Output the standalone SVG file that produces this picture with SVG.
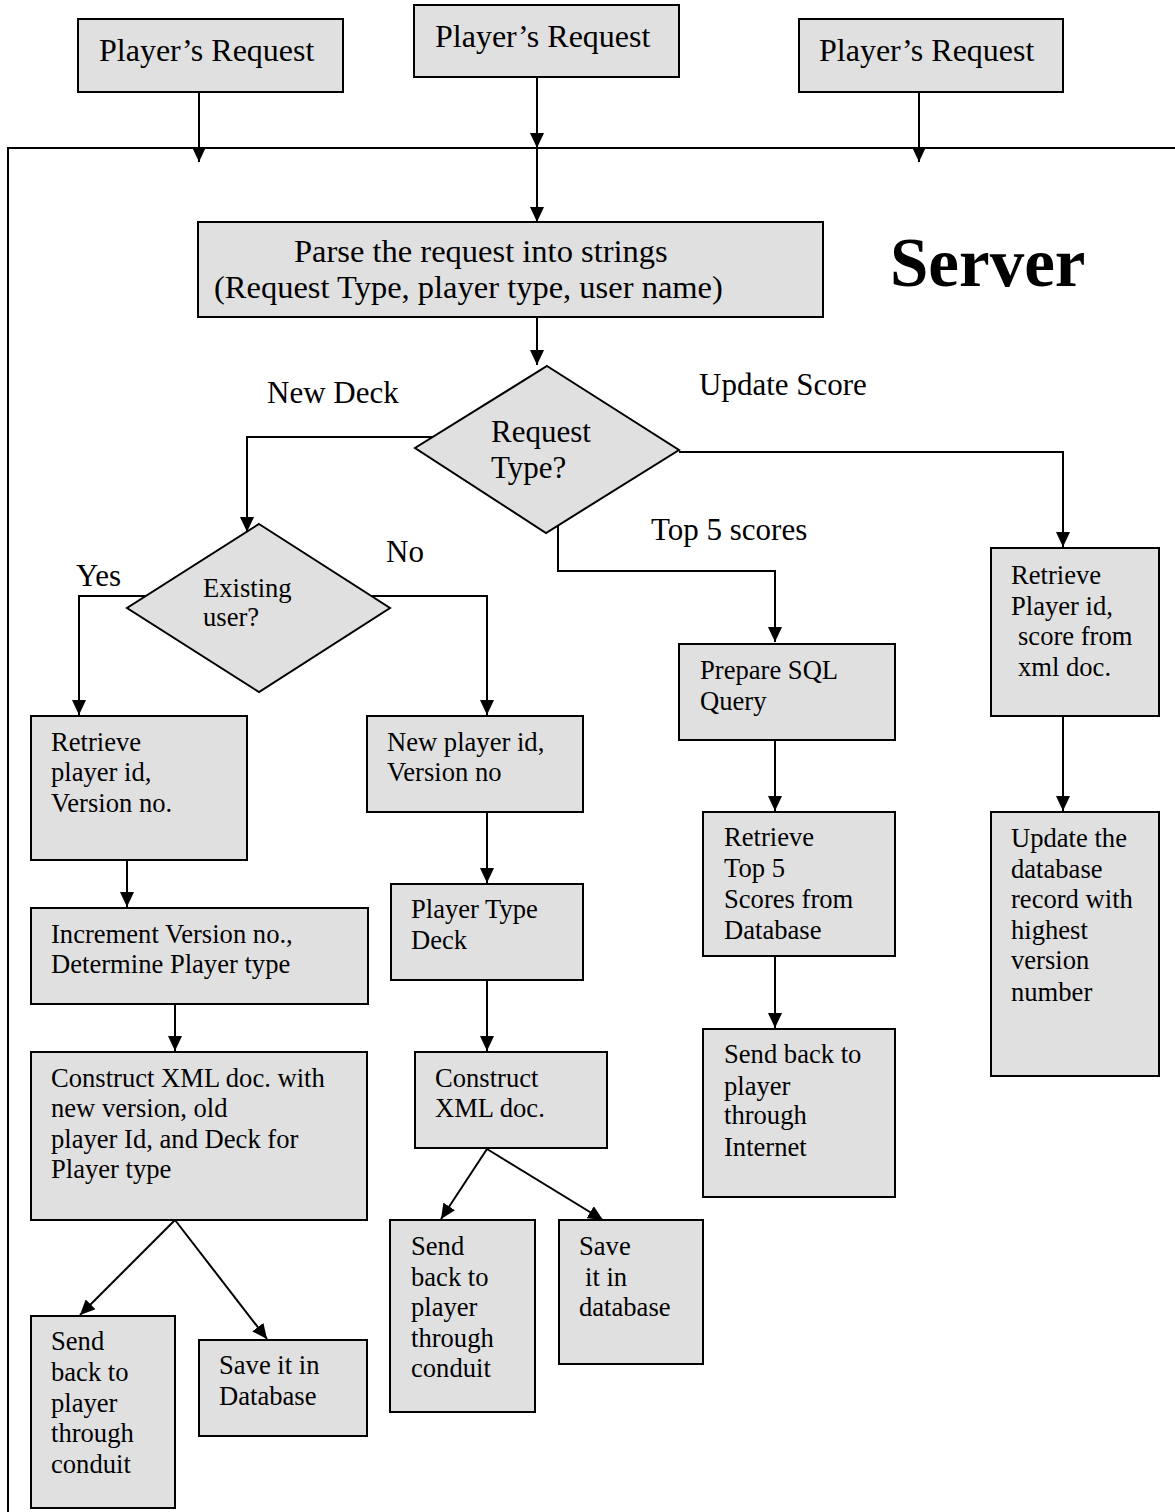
<svg xmlns="http://www.w3.org/2000/svg" width="1175" height="1512" viewBox="0 0 1175 1512">
  <style>
    .box { fill: #e0e0e0; stroke: #000; stroke-width: 2; }
    .edge { fill: none; stroke: #000; stroke-width: 2; }
    .arrow { fill: none; stroke: #000; stroke-width: 2; marker-end: url(#ah); }
    text { font-family: "Liberation Serif", "Times New Roman", serif; fill: #000; }
    .t32 { font-size: 32px; }
    .t31 { font-size: 32.5px; }
    .t30 { font-size: 31px; }
    .t27 { font-size: 26.6px; }
    .big { font-size: 69px; font-weight: bold; }
  </style>
  <defs>
    <marker id="ah" markerWidth="15" markerHeight="14" refX="15" refY="7" orient="auto" markerUnits="userSpaceOnUse">
      <path d="M0,0 L15,7 L0,14 z" fill="#000"/>
    </marker>
  </defs>

  <rect width="1175" height="1512" fill="#fff"/>

  <!-- server frame: top and left border -->
  <g id="server-frame">
    <path class="edge" d="M8,1512 L8,148 L1175,148"/>
    <text class="big" x="890" y="286">Server</text>
  </g>

  <!-- connectors -->
  <g id="connectors">
    <line class="arrow" x1="199" y1="92" x2="199" y2="162"/>
    <line class="arrow" x1="537" y1="77" x2="537" y2="148"/>
    <line class="arrow" x1="919" y1="92" x2="919" y2="162"/>
    <line class="arrow" x1="537" y1="148" x2="537" y2="222"/>
    <line class="arrow" x1="537" y1="318" x2="537" y2="365"/>
    <!-- New Deck -->
    <polyline class="arrow" points="437,437 247,437 247,532"/>
    <!-- Update Score -->
    <polyline class="arrow" points="679,452 1063,452 1063,547"/>
    <!-- Top 5 scores -->
    <polyline class="arrow" points="558,524 558,571 775,571 775,642"/>
    <!-- Yes / No -->
    <polyline class="arrow" points="151,596 79,596 79,715"/>
    <polyline class="arrow" points="368,596 487,596 487,715"/>
    <!-- existing user chain -->
    <line class="arrow" x1="127" y1="860" x2="127" y2="907"/>
    <line class="arrow" x1="175" y1="1004" x2="175" y2="1051"/>
    <line class="arrow" x1="175" y1="1220" x2="80" y2="1315"/>
    <line class="arrow" x1="175" y1="1220" x2="267" y2="1339"/>
    <!-- new user chain -->
    <line class="arrow" x1="487" y1="812" x2="487" y2="883"/>
    <line class="arrow" x1="487" y1="980" x2="487" y2="1051"/>
    <line class="arrow" x1="487" y1="1149" x2="441" y2="1219"/>
    <line class="arrow" x1="487" y1="1149" x2="603" y2="1220"/>
    <!-- top 5 chain -->
    <line class="arrow" x1="775" y1="740" x2="775" y2="811"/>
    <line class="arrow" x1="775" y1="956" x2="775" y2="1028"/>
    <!-- update score chain -->
    <line class="arrow" x1="1063" y1="716" x2="1063" y2="811"/>
  </g>

  <!-- branch labels -->
  <g id="labels" class="t30">
    <text x="267" y="403">New Deck</text>
    <text x="699" y="395">Update Score</text>
    <text x="651" y="540">Top 5 scores</text>
    <text x="76" y="586">Yes</text>
    <text x="386" y="562">No</text>
  </g>

  <g id="request-1">
    <rect class="box" x="78" y="19" width="265" height="73"/>
    <text class="t32" x="99" y="61">Player’s Request</text>
  </g>
  <g id="request-2">
    <rect class="box" x="414" y="5" width="265" height="72"/>
    <text class="t32" x="435" y="47">Player’s Request</text>
  </g>
  <g id="request-3">
    <rect class="box" x="799" y="19" width="264" height="73"/>
    <text class="t32" x="819" y="61">Player’s Request</text>
  </g>

  <g id="parse">
    <rect class="box" x="198" y="222" width="625" height="95"/>
    <text class="t31" x="294" y="262">Parse the request into strings</text>
    <text class="t31" x="214" y="298">(Request Type, player type, user name)</text>
  </g>

  <g id="request-type">
    <polygon class="box" points="547,366 679,450 546,533 415,448"/>
    <text class="t30" x="491" y="442">Request</text>
    <text class="t30" x="491" y="478">Type?</text>
  </g>

  <g id="existing-user">
    <polygon class="box" points="259,524 390,608 259,692 127,608"/>
    <text class="t27" x="203" y="597">Existing</text>
    <text class="t27" x="203" y="626">user?</text>
  </g>

  <g id="retrieve-player">
    <rect class="box" x="31" y="716" width="216" height="144"/>
    <text class="t27" x="51" y="751">Retrieve</text>
    <text class="t27" x="51" y="781">player id,</text>
    <text class="t27" x="51" y="812">Version no.</text>
  </g>

  <g id="new-player">
    <rect class="box" x="367" y="716" width="216" height="96"/>
    <text class="t27" x="387" y="751">New player id,</text>
    <text class="t27" x="387" y="781">Version no</text>
  </g>

  <g id="increment-version">
    <rect class="box" x="31" y="908" width="337" height="96"/>
    <text class="t27" x="51" y="943">Increment Version no.,</text>
    <text class="t27" x="51" y="973">Determine Player type</text>
  </g>

  <g id="player-type-deck">
    <rect class="box" x="391" y="884" width="192" height="96"/>
    <text class="t27" x="411" y="918">Player Type</text>
    <text class="t27" x="411" y="949">Deck</text>
  </g>

  <g id="construct-xml-existing">
    <rect class="box" x="31" y="1052" width="336" height="168"/>
    <text class="t27" x="51" y="1087">Construct XML doc. with</text>
    <text class="t27" x="51" y="1117">new version, old</text>
    <text class="t27" x="51" y="1148">player Id, and Deck for</text>
    <text class="t27" x="51" y="1178">Player type</text>
  </g>

  <g id="construct-xml-new">
    <rect class="box" x="415" y="1052" width="192" height="96"/>
    <text class="t27" x="435" y="1087">Construct</text>
    <text class="t27" x="435" y="1117">XML doc.</text>
  </g>

  <g id="send-conduit-existing">
    <rect class="box" x="31" y="1316" width="144" height="192"/>
    <text class="t27" x="51" y="1350">Send</text>
    <text class="t27" x="51" y="1381">back to</text>
    <text class="t27" x="51" y="1412">player</text>
    <text class="t27" x="51" y="1442">through</text>
    <text class="t27" x="51" y="1473">conduit</text>
  </g>

  <g id="save-existing">
    <rect class="box" x="199" y="1340" width="168" height="96"/>
    <text class="t27" x="219" y="1374">Save it in</text>
    <text class="t27" x="219" y="1405">Database</text>
  </g>

  <g id="send-conduit-new">
    <rect class="box" x="390" y="1220" width="145" height="192"/>
    <text class="t27" x="411" y="1255">Send</text>
    <text class="t27" x="411" y="1286">back to</text>
    <text class="t27" x="411" y="1316">player</text>
    <text class="t27" x="411" y="1347">through</text>
    <text class="t27" x="411" y="1377">conduit</text>
  </g>

  <g id="save-new">
    <rect class="box" x="559" y="1220" width="144" height="144"/>
    <text class="t27" x="579" y="1255">Save</text>
    <text class="t27" x="585" y="1286">it in</text>
    <text class="t27" x="579" y="1316">database</text>
  </g>

  <g id="prepare-sql">
    <rect class="box" x="679" y="644" width="216" height="96"/>
    <text class="t27" x="700" y="679">Prepare SQL</text>
    <text class="t27" x="700" y="710">Query</text>
  </g>

  <g id="retrieve-top5">
    <rect class="box" x="703" y="812" width="192" height="144"/>
    <text class="t27" x="724" y="846">Retrieve</text>
    <text class="t27" x="724" y="877">Top 5</text>
    <text class="t27" x="724" y="908">Scores from</text>
    <text class="t27" x="724" y="939">Database</text>
  </g>

  <g id="send-internet">
    <rect class="box" x="703" y="1029" width="192" height="168"/>
    <text class="t27" x="724" y="1063">Send back to</text>
    <text class="t27" x="724" y="1095">player</text>
    <text class="t27" x="724" y="1124">through</text>
    <text class="t27" x="724" y="1156">Internet</text>
  </g>

  <g id="retrieve-score">
    <rect class="box" x="991" y="548" width="168" height="168"/>
    <text class="t27" x="1011" y="584">Retrieve</text>
    <text class="t27" x="1011" y="615">Player id,</text>
    <text class="t27" x="1018" y="645">score from</text>
    <text class="t27" x="1018" y="676">xml doc.</text>
  </g>

  <g id="update-record">
    <rect class="box" x="991" y="812" width="168" height="264"/>
    <text class="t27" x="1011" y="847">Update the</text>
    <text class="t27" x="1011" y="878">database</text>
    <text class="t27" x="1011" y="908">record with</text>
    <text class="t27" x="1011" y="939">highest</text>
    <text class="t27" x="1011" y="969">version</text>
    <text class="t27" x="1011" y="1001">number</text>
  </g>
</svg>
